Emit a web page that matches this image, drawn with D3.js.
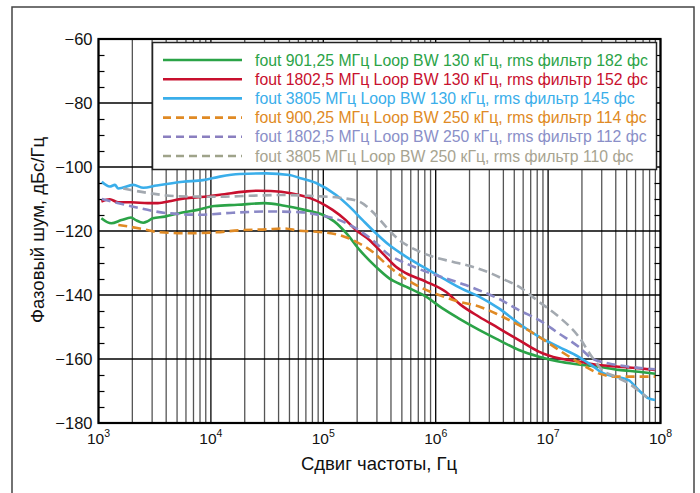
<!DOCTYPE html>
<html><head><meta charset="utf-8">
<script src="https://cdn.jsdelivr.net/npm/d3@7"></script>
<style>body{margin:0;background:#fff} svg{display:block;font-family:"Liberation Sans",Arial,sans-serif}</style>
</head><body>
<svg id="c" width="700" height="493"></svg>
<script>
// ---- data ----
const xTickExponents = [3, 4, 5, 6, 7, 8];
const yTicks = [-60, -80, -100, -120, -140, -160, -180];
const xTitle = "Сдвиг частоты, Гц";
const yTitle = "Фазовый шум, дБс/Гц";
const seriesLabels = [
  "fout 901,25 МГц Loop BW 130 кГц, rms фильтр 182 фс",
  "fout 1802,5 МГц Loop BW 130 кГц, rms фильтр 152 фс",
  "fout 3805 МГц Loop BW 130 кГц, rms фильтр 145 фс",
  "fout 900,25 МГц Loop BW 250 кГц, rms фильтр 114 фс",
  "fout 1802,5 МГц Loop BW 250 кГц, rms фильтр 112 фс",
  "fout 3805 МГц Loop BW 250 кГц, rms фильтр 110 фс"
];
// [frequency Hz, phase noise dBc/Hz]
const green900_130 = [[1.06e3,-116.0],[1.3e3,-117.6],[1.6e3,-116.6],[1.95e3,-115.8],[2.15e3,-116.6],[2.5e3,-117.4],[2.75e3,-116.9],[3.05e3,-116.0],[3.9e3,-115.5],[5.1e3,-114.5],[7.6e3,-113.4],[1.07e4,-112.2],[1.73e4,-111.8],[3.0e4,-111.3],[4.5e4,-112.1],[6.8e4,-113.4],[1.0e5,-115.0],[1.25e5,-117.0],[1.6e5,-120.7],[2.1e5,-125.9],[2.94e5,-131.2],[3.86e5,-134.8],[5.43e5,-137.4],[8.2e5,-140.5],[1.15e6,-144.2],[1.6e6,-147.3],[2.43e6,-150.9],[3.65e6,-154.1],[5.5e6,-157.2],[8.3e6,-159.3],[1.24e7,-160.8],[1.87e7,-161.7],[2.8e7,-162.4],[4.24e7,-163.4],[6.4e7,-164.0],[9.0e7,-164.6]];
const red1800_130 = [[1.06e3,-110.8],[1.26e3,-110.1],[1.49e3,-111.0],[1.95e3,-111.0],[2.75e3,-111.3],[3.37e3,-111.3],[4.43e3,-110.6],[5.82e3,-109.8],[8.75e3,-109.3],[1.32e4,-108.5],[1.98e4,-107.7],[2.6e4,-107.4],[3.41e4,-107.5],[5.14e4,-108.2],[7.73e4,-109.8],[9.5e4,-111.2],[1.21e5,-113.4],[1.585e5,-116.6],[1.95e5,-119.7],[2.57e5,-122.8],[3.37e5,-127.0],[4.43e5,-131.2],[5.43e5,-133.2],[8.17e5,-135.8],[1.23e6,-139.0],[1.66e6,-143.0],[2.43e6,-146.8],[3.65e6,-150.4],[5.5e6,-154.1],[8.26e6,-157.7],[1.245e7,-159.8],[1.87e7,-160.8],[2.82e7,-161.9],[4.24e7,-162.4],[6.38e7,-162.9],[8.97e7,-163.4]];
const blue3805_130 = [[1.07e3,-104.6],[1.26e3,-106.1],[1.4e3,-105.6],[1.5e3,-106.7],[2.04e3,-105.6],[2.51e3,-106.5],[3.28e3,-105.8],[5.65e3,-104.6],[8.5e3,-104.1],[1.2e4,-103.0],[1.8e4,-102.2],[3.1e4,-102.0],[5.0e4,-102.5],[6.14e4,-103.4],[8.63e4,-105.0],[1.3e5,-108.75],[1.71e5,-112.4],[2.24e5,-116.6],[2.94e5,-120.7],[3.86e5,-124.4],[5.43e5,-128.0],[8.17e5,-131.7],[1.23e6,-135.3],[1.7e6,-138.0],[2.43e6,-140.5],[3.65e6,-144.2],[5.5e6,-148.9],[8.26e6,-153.0],[1.245e7,-156.2],[1.87e7,-159.3],[2.45e7,-162.0],[3.02e7,-164.3],[3.96e7,-165.5],[5.2e7,-166.6],[6.38e7,-169.7],[7.83e7,-172.3],[8.97e7,-172.8]];
const orange900_250 = [[1.5e3,-118.1],[2.33e3,-119.2],[3.52e3,-120.4],[6.07e3,-120.7],[1.12e4,-120.4],[1.93e4,-119.7],[3.1e4,-119.5],[4.37e4,-119.2],[6.14e4,-119.9],[9.2e4,-120.3],[1.39e5,-121.25],[1.95e5,-123.3],[2.74e5,-126.5],[3.86e5,-131.2],[5.07e5,-134.3],[7.13e5,-137.4],[1.07e6,-140.0],[1.61e6,-142.1],[2.43e6,-143.6],[3.65e6,-146.25],[5.5e6,-149.4],[8.26e6,-153.0],[1.245e7,-157.2],[1.63e7,-159.8],[2.15e7,-162.4],[2.82e7,-164.5],[3.96e7,-165.5],[5.96e7,-165.5],[8.97e7,-165.5]];
const purple1800_250 = [[1.07e3,-110.0],[2.04e3,-112.4],[4.03e3,-114.4],[7.94e3,-114.9],[1.57e4,-114.3],[3.1e4,-113.9],[6.14e4,-114.1],[9.2e4,-115.0],[1.39e5,-116.6],[1.95e5,-119.2],[2.74e5,-122.8],[3.86e5,-127.5],[5.43e5,-130.1],[8.17e5,-132.7],[1.23e6,-134.8],[1.85e6,-136.9],[2.63e6,-139.0],[3.65e6,-141.2],[5.5e6,-144.7],[8.26e6,-147.8],[1.245e7,-152.0],[1.87e7,-156.2],[2.45e7,-159.8],[3.47e7,-161.4],[5.2e7,-162.4],[8.97e7,-163.2]];
const gray3805_250 = [[1.66e3,-106.7],[2.86e3,-108.2],[4.94e3,-109.1],[1.12e4,-109.3],[2.21e4,-109.0],[4.37e4,-108.75],[8.63e4,-109.1],[1.39e5,-109.6],[2.09e5,-110.8],[2.74e5,-114.0],[3.6e5,-118.6],[4.73e5,-122.8],[6.65e5,-125.9],[9.35e5,-128.0],[1.41e6,-129.6],[2.12e6,-131.2],[3.18e6,-133.4],[3.98e6,-135.0],[5.5e6,-137.4],[8.26e6,-142.1],[1.245e7,-146.8],[1.87e7,-153.0],[2.45e7,-159.3],[3.02e7,-163.4],[3.96e7,-165.5],[5.2e7,-167.6],[6.82e7,-170.7],[7.6e7,-172.0]];

const seriesData = [green900_130, red1800_130, blue3805_130, orange900_250, purple1800_250, gray3805_250];
const lineColors = ["#2ba347", "#c8102e", "#3aaeea", "#e08a24", "#8a88c6", "#a3a9b0"];
const legendLineColors = ["#2ba347", "#c8102e", "#3aaeea", "#e08a24", "#8a7fbf", "#9fa38a"];
const textColors = ["#2ba347", "#c8102e", "#3aaeea", "#e08a24", "#8a8fc8", "#a7a491"];
const dashed = [false, false, false, true, true, true];

// ---- layout ----
const svg = d3.select("#c");
const L = 98.5, R = 660.5, T = 39, B = 423;
const x = d3.scaleLog().domain([1e3, 1e8]).range([L, R]);
const y = d3.scaleLinear().domain([-180, -60]).range([B, T]);

// outer frame
svg.append("rect").attr("x", 12).attr("y", 7).attr("width", 682).attr("height", 500)
  .attr("fill", "none").attr("stroke", "#444").attr("stroke-width", 1.5);

// vertical grid (all 1..9 x 10^n)
const vt = x.ticks();
svg.append("g").selectAll("line").data(vt).join("line")
  .attr("x1", d => x(d)).attr("x2", d => x(d)).attr("y1", T).attr("y2", B)
  .attr("stroke", d => Math.abs(Math.log10(d) - Math.round(Math.log10(d))) < 1e-9 ? "#000" : "#555")
  .attr("stroke-width", 1.3);

// horizontal grid (majors)
svg.append("g").selectAll("line").data(yTicks).join("line")
  .attr("x1", L).attr("x2", R).attr("y1", d => y(d)).attr("y2", d => y(d))
  .attr("stroke", "#000").attr("stroke-width", 1.3);

// minor y ticks, inward on both sides
const minorY = d3.range(-175, -60, 5).filter(v => v % 20 !== 0);
const yAxL = d3.axisRight(y).tickValues(minorY).tickSize(6).tickFormat("");
const yAxR = d3.axisLeft(y).tickValues(minorY).tickSize(6).tickFormat("");
svg.append("g").attr("transform", `translate(${L},0)`).call(yAxL).call(g => g.select(".domain").remove())
  .selectAll("line").attr("stroke", "#000").attr("stroke-width", 1.2);
svg.append("g").attr("transform", `translate(${R},0)`).call(yAxR).call(g => g.select(".domain").remove())
  .selectAll("line").attr("stroke", "#000").attr("stroke-width", 1.2);

// y tick labels
const yAxis = d3.axisLeft(y).tickValues(yTicks).tickSize(0).tickPadding(6);
svg.append("g").attr("transform", `translate(${L},0)`).call(yAxis)
  .call(g => g.select(".domain").remove())
  .selectAll("text").attr("font-size", 16.5).attr("fill", "#111").attr("font-family", '"Liberation Sans",Arial,sans-serif');

// x tick labels 10^n
const xl = svg.append("g").selectAll("text").data(xTickExponents).join("text")
  .attr("x", d => x(Math.pow(10, d))).attr("y", 444)
  .attr("text-anchor", "middle").attr("font-size", 15.5).attr("fill", "#111");
xl.append("tspan").text("10");
xl.append("tspan").attr("font-size", 10.5).attr("dy", -7).text(d => d);

// axis titles
svg.append("text").attr("x", 379).attr("y", 470).attr("text-anchor", "middle")
  .attr("font-size", 18.5).attr("fill", "#111").text(xTitle);
svg.append("text").attr("transform", "translate(44,230) rotate(-90)").attr("text-anchor", "middle")
  .attr("font-size", 18.5).attr("fill", "#111").text(yTitle);

// curves
svg.append("clipPath").attr("id", "clip").append("rect")
  .attr("x", L).attr("y", T).attr("width", R - L).attr("height", B - T);
const line = d3.line().x(d => x(d[0])).y(d => y(d[1])).curve(d3.curveMonotoneX);
const cg = svg.append("g").attr("clip-path", "url(#clip)");
seriesData.forEach((s, i) => {
  cg.append("path").attr("d", line(s)).attr("fill", "none")
    .attr("stroke", lineColors[i]).attr("stroke-width", 2.6)
    .attr("stroke-dasharray", dashed[i] ? "9,5" : null)
    .attr("stroke-linejoin", "round");
});

// plot border
svg.append("rect").attr("x", L).attr("y", T).attr("width", R - L).attr("height", B - T)
  .attr("fill", "none").attr("stroke", "#000").attr("stroke-width", 2.2);

// legend
const lg = svg.append("g");
lg.append("rect").attr("x", 152.5).attr("y", 42.5).attr("width", 504).attr("height", 127)
  .attr("fill", "#fff").attr("stroke", "#222").attr("stroke-width", 1.5);
seriesLabels.forEach((lab, i) => {
  const ry = 60 + i * 19.2;
  lg.append("line").attr("x1", 163).attr("x2", 242).attr("y1", ry).attr("y2", ry)
    .attr("stroke", legendLineColors[i]).attr("stroke-width", 2.6)
    .attr("stroke-dasharray", dashed[i] ? "8,5" : null);
  lg.append("text").attr("x", 255).attr("y", ry + 5.5).attr("font-size", 15.8)
    .attr("fill", textColors[i]).text(lab);
});
</script>
</body></html>
